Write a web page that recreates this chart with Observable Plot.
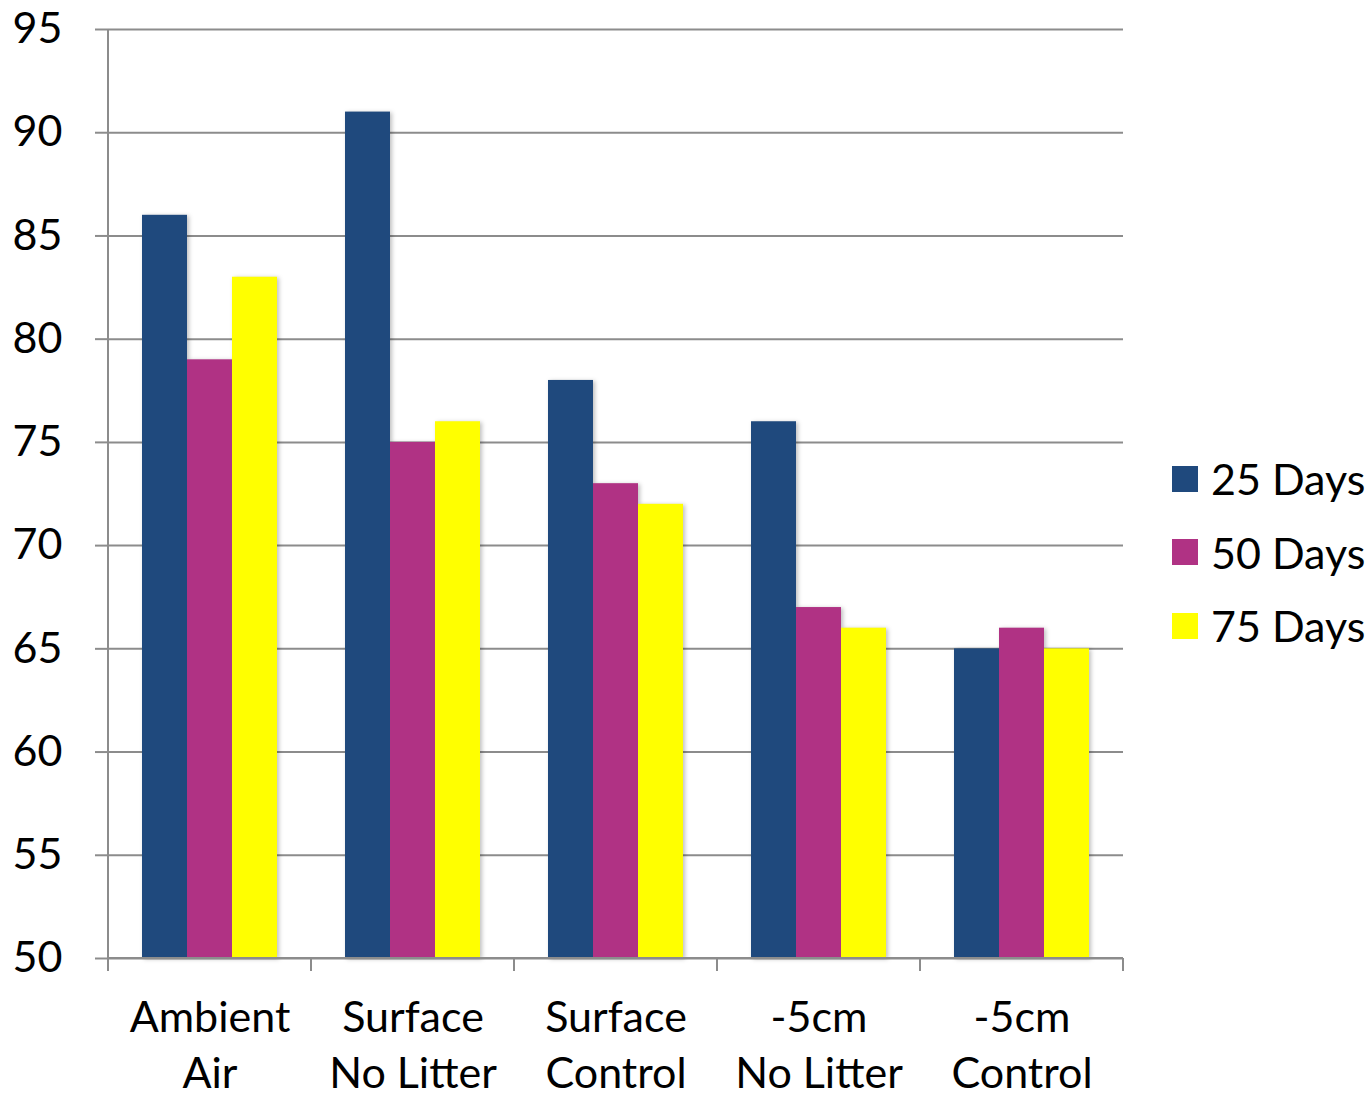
<!DOCTYPE html>
<html>
<head>
<meta charset="utf-8">
<script src="https://cdn.jsdelivr.net/npm/d3@7"></script>
<script src="https://cdn.jsdelivr.net/npm/@observablehq/plot@0.6"></script>
<style>
  body { margin: 0; background: #fff; font-family: Lato, sans-serif; }
  #wrap { position: relative; width: 1365px; height: 1095px; overflow: hidden; background: #fff; }
  #legend { position: absolute; left: 1172px; top: 442px; }
  .item { display: flex; align-items: center; height: 73.5px; font-size: 43px; color: #000; white-space: nowrap; }
  .sw { width: 26px; height: 26px; margin-right: 13px; flex: none; }
</style>
</head>
<body>
<div id="wrap"></div>
<script>
// Treatment groups along the x axis (two-line labels)
const categories = ["Ambient Air", "Surface No Litter", "Surface Control", "-5cm No Litter", "-5cm Control"];
const categoryLabels = ["Ambient\nAir", "Surface\nNo Litter", "Surface\nControl", "-5cm\nNo Litter", "-5cm\nControl"];

// Series
const seriesNames = ["25 Days", "50 Days", "75 Days"];
const days25 = [86, 91, 78, 76, 65];
const days50 = [79, 75, 73, 67, 66];
const days75 = [83, 76, 72, 66, 65];
const seriesColors = ["#1F497D", "#B03284", "#FFFF00"];

// Value axis
const yDomain = [50, 95];
const yTicks = [50, 55, 60, 65, 70, 75, 80, 85, 90, 95];

const seriesValues = [days25, days50, days75];
const rows = [];
categories.forEach((c, i) => {
  seriesNames.forEach((s, j) => rows.push({category: c, series: s, value: seriesValues[j][i]}));
});

const gridColor = "#8c8c8c";

const plot = Plot.plot({
  width: 1365,
  height: 1095,
  marginLeft: 108,
  marginRight: 242,
  marginTop: 29,
  marginBottom: 137,
  style: {fontFamily: "Lato, sans-serif", fontSize: "43px", color: "#000", background: "#fff", overflow: "visible"},
  fx: {domain: categories, padding: 0, label: null},
  x: {domain: seriesNames, paddingInner: 0, paddingOuter: 0.745, axis: null},
  y: {domain: yDomain, label: null},
  color: {domain: seriesNames, range: seriesColors},
  marks: [
    Plot.gridY(yTicks, {stroke: gridColor, strokeOpacity: 1, strokeWidth: 2}),
    Plot.barY(rows, {fx: "category", x: "series", y1: yDomain[0], y2: "value", fill: "series"}),
    Plot.axisY(yTicks, {tickSize: 13, tickPadding: 33, stroke: gridColor, strokeWidth: 2, label: null, fill: "#000"}),
    Plot.axisFx({
      anchor: "bottom",
      tickSize: 0, tickPadding: 33, label: null, lineHeight: 1.31, fill: "#000",
      tickFormat: d => categoryLabels[categories.indexOf(d)]
    })
  ]
});

// Soft shadow behind the bars
d3.select(plot).selectAll('g[aria-label="bar"]')
  .style("filter", "drop-shadow(2px 1px 2px rgba(0,0,0,0.25))");

// Axis lines: vertical value axis and category boundary ticks
const fx = plot.scale("fx");
const y = plot.scale("y");
const yTop = y.apply(yDomain[1]);
const yBase = y.apply(yDomain[0]);
const g = d3.select(plot).append("g").attr("stroke", gridColor).attr("stroke-width", 2);
const left = fx.apply(categories[0]);
g.append("line").attr("x1", left).attr("x2", left).attr("y1", yTop).attr("y2", yBase + 13);
categories.forEach(c => {
  const xb = fx.apply(c) + fx.bandwidth;
  g.append("line").attr("x1", xb).attr("x2", xb).attr("y1", yBase).attr("y2", yBase + 13);
});
// Base line redrawn over the bar shadows
g.append("line").attr("x1", left).attr("x2", fx.apply(categories[categories.length - 1]) + fx.bandwidth)
  .attr("y1", yBase).attr("y2", yBase);

const wrap = document.getElementById("wrap");
wrap.appendChild(plot);

// Legend
const legend = document.createElement("div");
legend.id = "legend";
seriesNames.forEach((s, i) => {
  const item = document.createElement("div");
  item.className = "item";
  const sw = document.createElement("span");
  sw.className = "sw";
  sw.style.background = seriesColors[i];
  const label = document.createElement("span");
  label.textContent = s;
  item.appendChild(sw);
  item.appendChild(label);
  legend.appendChild(item);
});
wrap.appendChild(legend);
</script>
</body>
</html>
